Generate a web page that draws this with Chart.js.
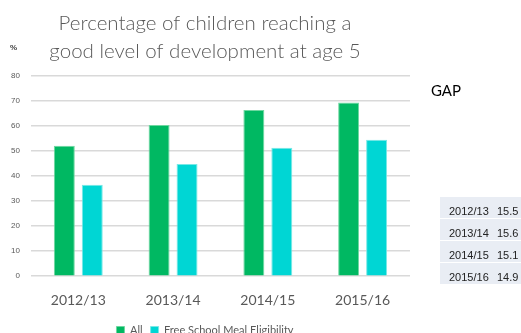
<!DOCTYPE html>
<html>
<head>
<meta charset="utf-8">
<script src="https://cdn.jsdelivr.net/npm/chart.js@4/dist/chart.umd.min.js"></script>
<style>
  body { margin: 0; width: 521px; height: 333px; overflow: hidden; background: #fff; position: relative; font-family: Lato, "Liberation Sans", sans-serif; }
  #chart { position: absolute; left: 0; top: 0; }
  .pct { position: absolute; left: 10px; top: 43px; font: bold 8px "Liberation Sans", sans-serif; color: #404040; }
  .gap { position: absolute; left: 431px; top: 81px; font-size: 15px; color: #000; }
  table.gaps { position: absolute; left: 440px; top: 197px; width: 90px; border-collapse: collapse; font: 11px "Liberation Sans", sans-serif; color: #222; }
  table.gaps td { background: #e9edf4; height: 20px; padding: 0; border-bottom: 1.5px solid #fff; vertical-align: bottom; padding-bottom: 1px; }
  table.gaps td.yr { padding-left: 9px; width: 48px; }
</style>
</head>
<body>
<canvas id="chart" width="521" height="346"></canvas>
<div class="pct">%</div>
<div class="gap">GAP</div>
<table class="gaps" id="gapTable"></table>
<script>
const years = ["2012/13", "2013/14", "2014/15", "2015/16"];
const allPupils = [52.0, 60.3, 66.3, 69.3];
const fsmPupils = [36.5, 44.7, 51.2, 54.4];
const yTicks = [0, 10, 20, 30, 40, 50, 60, 70, 80];

// gap table: all pupils minus FSM pupils
const table = document.getElementById("gapTable");
years.forEach((yr, i) => {
  const tr = document.createElement("tr");
  const gap = (allPupils[i] - fsmPupils[i]).toFixed(1);
  tr.innerHTML = `<td class="yr">${yr}</td><td>${gap}</td>`;
  table.appendChild(tr);
});

const ctx = document.getElementById("chart");

let grafico = new Chart(ctx, {
  type: "bar",
  data: {
    labels: years,
    datasets: [
      {
        label: "All",
        data: allPupils,
        backgroundColor: "rgb(0, 184, 98)",
        borderColor: "rgb(110, 215, 160)",
        borderWidth: 1,
        categoryPercentage: 0.59,
        barPercentage: 0.75,
      },
      {
        label: "Free School Meal Eligibility",
        data: fsmPupils,
        backgroundColor: "rgb(0, 214, 212)",
        borderColor: "rgb(120, 232, 230)",
        borderWidth: 1,
        categoryPercentage: 0.59,
        barPercentage: 0.75,
      },
    ],
  },
  options: {
    responsive: false,
    animation: false,
    layout: { padding: { left: 0, right: 111, top: 9, bottom: 0 } },
    plugins: {
      tooltip: { enabled: false },
      title: {
        display: true,
        text: ["Percentage of children reaching a", "good level of development at age 5"],
        color: "#595959",
        font: { family: "Lato", size: 20.5, weight: "300", lineHeight: 1.38 },
        padding: { top: 0, bottom: 10 },
      },
      legend: {
        position: "bottom",
        labels: {
          boxWidth: 8,
          boxHeight: 8,
          padding: 8,
          color: "#595959",
          font: { family: "Lato", size: 11 },
        },
      },
    },
    scales: {
      x: {
        grid: { display: false },
        border: { display: false },
        ticks: { color: "#595959", font: { family: "Lato", size: 14 }, padding: 8 },
      },
      y: {
        min: 0,
        max: 80,
        afterBuildTicks: (axis) => { axis.ticks = yTicks.map((v) => ({ value: v })); },
        border: { display: false },
        grid: { color: "#d9d9d9", lineWidth: 1.5, drawTicks: false },
        ticks: { color: "#595959", font: { family: "Liberation Sans", size: 8 }, padding: 11 },
      },
    },
  },
});
</script>
</body>
</html>
